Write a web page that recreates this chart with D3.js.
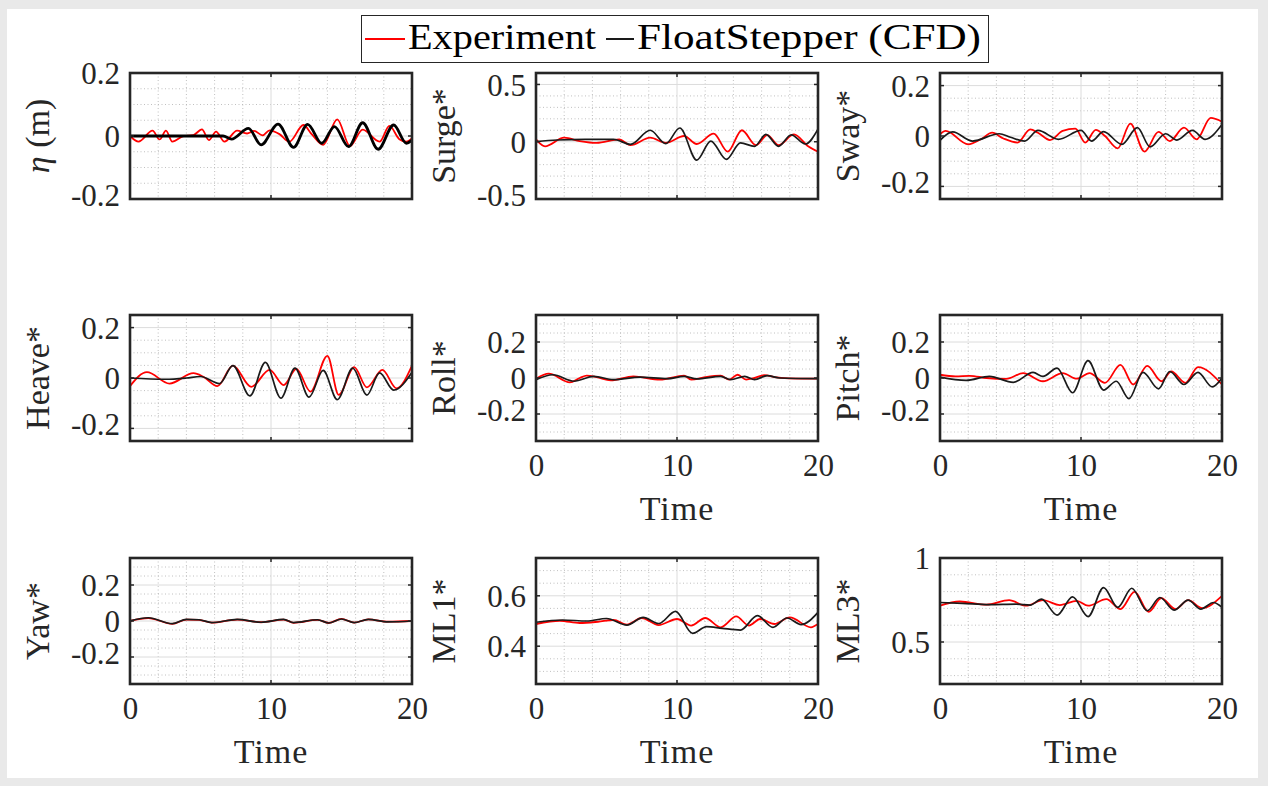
<!DOCTYPE html>
<html>
<head>
<meta charset="utf-8">
<script src="https://cdn.jsdelivr.net/npm/d3@7"></script>
<style>
  body { margin: 0; background: #e9e9e9; }
  svg text { font-family: "Liberation Serif", "Times New Roman", serif; fill: #262626; }
</style>
</head>
<body>
<div id="d3-container"></div>
<script>
/* CONSTANTS AND GLOBALS */
const width = 1268,
  height = 786,
  panelW = 282,
  panelH = 126;
const colX = [130, 536, 940];
const rowY = [73, 315, 558];

/* DATA */
const timeDomain = [0, 20];
const timeTicks = [0, 10, 20];
const timeMinorStep = 2;
const legendNames = ["Experiment", "FloatStepper (CFD)"];
const seriesColors = ["#ff0000", "#000000"];

// [time, value] pairs (peaks / troughs)
const etaExp = [[0,0],[0.6,-0.018],[1.6,0.017],[2.1,-0.011],[2.55,0.017],[3.0,-0.018],[3.8,0],[4.5,0.003],[5.1,0.021],[5.6,-0.013],[6.1,0.014],[6.7,-0.018],[7.6,0.017],[8.3,0.008],[8.8,0.016],[9.4,0.002],[9.9,0.018],[10.6,0.006],[11.3,-0.018],[12.3,0.035],[12.9,0.005],[13.7,-0.028],[14.7,0.053],[15.6,-0.032],[16.5,0.02],[17.7,-0.018],[18.4,0.032],[19.1,-0.01],[19.6,-0.018],[20,-0.007]];
const etaCfd = [[0,0],[6.6,0],[7.2,-0.01],[8.4,0.024],[9.3,-0.028],[10.5,0.038],[11.6,-0.036],[12.6,0.037],[13.6,-0.023],[14.5,0.03],[15.5,-0.034],[16.5,0.042],[17.6,-0.042],[18.7,0.035],[19.6,-0.023],[20,-0.013]];

const surgeExp = [[0,0.02],[0.64,-0.04],[2.0,0.035],[3.1,0.006],[4.3,-0.01],[5.9,0.02],[6.7,-0.03],[8.1,0.035],[9.2,-0.01],[10.5,0.05],[11.4,-0.02],[12.6,0.07],[13.6,-0.087],[14.6,0.1],[15.6,-0.03],[16.4,0.058],[17.2,-0.03],[18.3,0.064],[19.3,-0.04],[20,-0.087]];
const surgeCfd = [[0,0],[1.5,0.015],[3.5,0.02],[5.5,0.02],[6.7,-0.023],[8.1,0.1],[9.2,-0.017],[10.2,0.12],[11.4,-0.16],[12.4,0.006],[13.5,-0.154],[14.5,-0.01],[15.5,-0.04],[16.3,0.064],[17.2,-0.04],[18.1,0.06],[19.1,-0.02],[20,0.11]];

const swayExp = [[0,0.007],[0.4,0.02],[2.0,-0.033],[2.9,-0.013],[3.7,0.013],[4.5,-0.01],[5.5,-0.026],[6.4,0.026],[6.95,0.013],[7.8,-0.016],[8.7,0.02],[9.6,0.029],[10.3,-0.026],[11.05,0.024],[11.7,0.0],[12.6,-0.049],[13.5,0.049],[14.5,-0.062],[15.5,0.016],[16.3,-0.02],[17.3,0.033],[18.2,-0.013],[19.2,0.072],[20,0.057]];
const swayCfd = [[0,-0.017],[0.9,0.016],[2.3,-0.02],[4.2,0.009],[5.0,-0.005],[6.0,-0.02],[6.95,0.022],[8.4,-0.013],[10.0,0.022],[10.75,-0.02],[11.6,0.017],[12.9,-0.033],[14.0,0.033],[14.9,-0.043],[16.0,0.009],[16.8,-0.016],[17.9,0.022],[18.8,-0.013],[20,0.046]];

const heaveExp = [[0,-0.032],[1.2,0.023],[2.8,-0.022],[4.5,0.019],[5.2,0.005],[6.2,-0.032],[7.3,0.049],[8.6,-0.035],[9.9,0.032],[10.9,-0.028],[11.8,0.036],[12.8,-0.054],[14.0,0.088],[14.8,-0.067],[15.9,0.043],[16.8,-0.037],[17.9,0.032],[18.9,-0.041],[20,0.049]];
const heaveCfd = [[0,0],[2.5,-0.005],[4.0,0],[5.0,0.006],[6.35,-0.022],[7.3,0.049],[8.5,-0.071],[9.6,0.062],[10.7,-0.08],[11.7,0.039],[12.7,-0.076],[13.7,0.03],[14.7,-0.086],[15.8,0.039],[16.8,-0.068],[17.7,0.02],[18.7,-0.048],[20,0.023]];

const rollExp = [[0,-0.005],[0.9,0.024],[2.4,-0.024],[3.1,0],[3.6,0.013],[4.3,0.005],[5.3,-0.013],[6.9,0.009],[8.8,-0.009],[10.5,0.013],[11.0,-0.009],[12.0,0.005],[13.1,0.013],[13.7,-0.009],[14.3,0.018],[14.9,-0.009],[15.5,0],[16.2,0.016],[16.9,0.005],[17.9,-0.002],[20,-0.004]];
const rollCfd = [[0,-0.009],[1.2,0.018],[2.7,-0.018],[4.1,0.009],[5.5,-0.009],[7.4,0.005],[9.3,-0.004],[10.5,0.009],[11.4,-0.005],[13.1,0.009],[13.8,-0.009],[14.8,0.009],[15.5,-0.009],[16.4,0.013],[17.3,0],[20,-0.004]];

const pitchExp = [[0,0.018],[1.1,0.009],[2.1,0.012],[3.3,0],[4.7,-0.005],[5.9,0.027],[7.3,-0.018],[8.7,0.027],[9.7,-0.004],[10.6,0.027],[11.7,-0.027],[12.8,0.073],[13.7,-0.036],[14.7,0.067],[15.7,-0.018],[16.4,0.036],[17.4,-0.027],[18.3,0.06],[20,-0.036]];
const pitchCfd = [[0,0.005],[1.85,-0.013],[3.5,0.009],[5.2,-0.024],[6.6,0.031],[7.3,0.009],[8.3,0.055],[9.4,-0.082],[10.5,0.096],[11.6,-0.067],[12.5,-0.018],[13.4,-0.115],[14.4,0.031],[15.5,-0.06],[16.3,0.036],[17.3,-0.036],[18.3,0.031],[19.3,-0.049],[20,0]];

const yawExp = [[0,0],[1.3,0.016],[3.0,-0.016],[4.0,0.008],[4.9,0.006],[5.8,-0.009],[7.6,0.008],[9.3,-0.007],[10.9,0.008],[11.6,-0.01],[13.3,0.006],[14.1,-0.011],[15.0,0.012],[15.9,-0.009],[16.9,0.009],[18.3,-0.004],[20,0]];
const yawCfd = [[0,0],[1.3,0.018],[3.0,-0.015],[4.0,0.009],[4.9,0.007],[5.8,-0.009],[7.6,0.009],[9.3,-0.007],[10.9,0.009],[11.6,-0.009],[13.3,0.007],[14.1,-0.011],[15.0,0.011],[15.9,-0.009],[16.9,0.009],[18.3,-0.005],[20,0]];

const ml1Exp = [[0,0.488],[1.7,0.501],[3.1,0.492],[4.4,0.497],[5.5,0.504],[6.45,0.486],[7.5,0.512],[8.7,0.484],[10.0,0.508],[11.0,0.482],[12.0,0.512],[13.1,0.475],[14.2,0.518],[15.1,0.482],[15.9,0.508],[16.9,0.488],[18.0,0.514],[19.5,0.475],[20,0.488]];
const ml1Cfd = [[0,0.495],[1.9,0.504],[3.6,0.5],[5.0,0.51],[6.45,0.484],[7.6,0.514],[8.7,0.49],[9.9,0.538],[11.1,0.451],[12.1,0.478],[13.2,0.471],[14.5,0.464],[15.7,0.521],[16.8,0.475],[17.8,0.512],[18.8,0.486],[20,0.534]];

const ml3Exp = [[0,0.716],[1.4,0.741],[3.3,0.722],[4.9,0.749],[6.1,0.716],[7.3,0.749],[8.5,0.72],[9.7,0.745],[10.5,0.716],[11.8,0.755],[12.8,0.696],[13.8,0.798],[14.8,0.68],[15.7,0.761],[16.7,0.696],[17.6,0.749],[18.6,0.702],[20,0.775]];
const ml3Cfd = [[0,0.735],[1.6,0.73],[3.5,0.722],[5.4,0.725],[6.4,0.72],[7.2,0.755],[8.3,0.66],[9.4,0.769],[10.5,0.651],[11.6,0.824],[12.6,0.706],[13.6,0.82],[14.7,0.686],[15.6,0.765],[16.6,0.69],[17.6,0.749],[18.5,0.696],[19.4,0.735],[20,0.706]];

const panelLabels = ["η (m)", "Surge*", "Sway*", "Heave*", "Roll*", "Pitch*", "Yaw*", "ML1*", "ML3*"];
const yDomains = [[-0.2, 0.2], [-0.5, 0.6], [-0.25, 0.25], [-0.25, 0.25], [-0.35, 0.35], [-0.35, 0.35], [-0.35, 0.35], [0.25, 0.75], [0.25, 1]];
const yTicks = [[-0.2, 0, 0.2], [-0.5, 0, 0.5], [-0.2, 0, 0.2], [-0.2, 0, 0.2], [-0.2, 0, 0.2], [-0.2, 0, 0.2], [-0.2, 0, 0.2], [0.4, 0.6], [0.5, 1]];
const yMinorSteps = [0.05, 0.1, 0.05, 0.05, 0.05, 0.05, 0.05, 0.05, 0.1];
const showTime = [false, false, false, false, true, true, true, true, true];
const expSeries = [etaExp, surgeExp, swayExp, heaveExp, rollExp, pitchExp, yawExp, ml1Exp, ml3Exp];
const cfdSeries = [etaCfd, surgeCfd, swayCfd, heaveCfd, rollCfd, pitchCfd, yawCfd, ml1Cfd, ml3Cfd];

let svg;

function init() {
  svg = d3.select("#d3-container")
    .append("svg")
    .attr("width", width)
    .attr("height", height);

  // white figure area
  svg.append("rect")
    .attr("x", 7).attr("y", 9)
    .attr("width", 1251).attr("height", 769)
    .attr("fill", "#ffffff");

  panelLabels.forEach((label, i) => drawPanel(i));
  drawLegend();
}

function minorValues(domain, step, majors) {
  const out = [];
  const k0 = Math.ceil(domain[0] / step - 1e-6), k1 = Math.floor(domain[1] / step + 1e-6);
  for (let k = k0; k <= k1; k++) {
    const v = +(k * step).toFixed(4);
    if (v <= domain[0] + 1e-6 || v >= domain[1] - 1e-6) continue;
    if (majors.some(m => Math.abs(m - v) < 1e-6)) continue;
    out.push(v);
  }
  return out;
}

function drawPanel(i) {
  const col = i % 3, row = Math.floor(i / 3);
  const g = svg.append("g")
    .attr("transform", `translate(${colX[col]}, ${rowY[row]})`);

  const xScale = d3.scaleLinear().domain(timeDomain).range([0, panelW]);
  const yScale = d3.scaleLinear().domain(yDomains[i]).range([panelH, 0]);

  const xMinor = minorValues(timeDomain, timeMinorStep, timeTicks);
  const yMinor = minorValues(yDomains[i], yMinorSteps[i], yTicks[i]);

  // minor grid (dotted)
  g.append("g").selectAll("line")
    .data(xMinor).join("line")
    .attr("x1", d => xScale(d)).attr("x2", d => xScale(d))
    .attr("y1", 0).attr("y2", panelH)
    .attr("stroke", "#b0b0b0").attr("stroke-width", 0.8)
    .attr("stroke-dasharray", "1,2.5");
  g.append("g").selectAll("line")
    .data(yMinor).join("line")
    .attr("x1", 0).attr("x2", panelW)
    .attr("y1", d => yScale(d)).attr("y2", d => yScale(d))
    .attr("stroke", "#b0b0b0").attr("stroke-width", 0.8)
    .attr("stroke-dasharray", "1,2.5");

  // major grid
  g.append("g").selectAll("line")
    .data(timeTicks).join("line")
    .attr("x1", d => xScale(d)).attr("x2", d => xScale(d))
    .attr("y1", 0).attr("y2", panelH)
    .attr("stroke", "#dcdcdc").attr("stroke-width", 1);
  g.append("g").selectAll("line")
    .data(yTicks[i]).join("line")
    .attr("x1", 0).attr("x2", panelW)
    .attr("y1", d => yScale(d)).attr("y2", d => yScale(d))
    .attr("stroke", "#dcdcdc").attr("stroke-width", 1);

  // lines
  const clipId = "clip" + i;
  g.append("clipPath").attr("id", clipId)
    .append("rect").attr("width", panelW).attr("height", panelH);

  const lineGen = d3.line()
    .x(d => xScale(d[0]))
    .y(d => yScale(d[1]))
    .curve(d3.curveMonotoneX);

  g.append("path")
    .attr("clip-path", `url(#${clipId})`)
    .attr("d", lineGen(expSeries[i]))
    .attr("fill", "none")
    .attr("stroke", seriesColors[0])
    .attr("stroke-width", 1.8);

  g.append("path")
    .attr("clip-path", `url(#${clipId})`)
    .attr("d", lineGen(cfdSeries[i]))
    .attr("fill", "none")
    .attr("stroke", i === 0 ? "#000000" : "#1a1a1a")
    .attr("stroke-width", i === 0 ? 2.8 : 1.7);

  // tick marks inside the box
  const tickLen = 4;
  const tickG = g.append("g").attr("stroke", "#262626").attr("stroke-width", 1.5);
  tickG.selectAll(".tl").data(yTicks[i]).join("line").attr("class", "tl")
    .attr("x1", 0).attr("x2", tickLen)
    .attr("y1", d => yScale(d)).attr("y2", d => yScale(d));
  tickG.selectAll(".tr").data(yTicks[i]).join("line").attr("class", "tr")
    .attr("x1", panelW - tickLen).attr("x2", panelW)
    .attr("y1", d => yScale(d)).attr("y2", d => yScale(d));
  tickG.selectAll(".tb").data(timeTicks).join("line").attr("class", "tb")
    .attr("x1", d => xScale(d)).attr("x2", d => xScale(d))
    .attr("y1", panelH - tickLen).attr("y2", panelH);
  tickG.selectAll(".tt").data(timeTicks).join("line").attr("class", "tt")
    .attr("x1", d => xScale(d)).attr("x2", d => xScale(d))
    .attr("y1", 0).attr("y2", tickLen);

  // frame
  g.append("rect")
    .attr("width", panelW).attr("height", panelH)
    .attr("fill", "none")
    .attr("stroke", "#262626")
    .attr("stroke-width", 2.6);

  // y tick labels via axis
  const yAxis = d3.axisLeft(yScale)
    .tickValues(yTicks[i])
    .tickSize(0)
    .tickPadding(10)
    .tickFormat(d => String(d));
  const yAxisGroup = g.append("g").call(yAxis);
  yAxisGroup.select(".domain").remove();
  yAxisGroup.selectAll("text")
    .attr("font-size", 31)
    .attr("font-family", "Liberation Serif, serif")
    .attr("fill", "#262626")
    .attr("dy", d => d < 0 ? "0.2em" : "0.34em");

  // y label
  const yl = g.append("text")
    .attr("transform", `translate(${-81}, ${panelH / 2}) rotate(-90)`)
    .attr("text-anchor", "middle")
    .attr("font-size", 34);
  if (i === 0) {
    yl.append("tspan").attr("font-style", "italic").text("η");
    yl.append("tspan").text(" (m)");
  } else {
    yl.text(panelLabels[i]);
  }

  if (showTime[i]) {
    const xAxis = d3.axisBottom(xScale)
      .tickValues(timeTicks)
      .tickSize(0)
      .tickPadding(13)
      .tickFormat(d => String(d));
    const xAxisGroup = g.append("g")
      .attr("transform", `translate(0, ${panelH})`)
      .call(xAxis);
    xAxisGroup.select(".domain").remove();
    xAxisGroup.selectAll("text")
      .attr("font-size", 31)
      .attr("font-family", "Liberation Serif, serif")
      .attr("fill", "#262626");

    g.append("text")
      .attr("x", panelW / 2)
      .attr("y", panelH + 79)
      .attr("text-anchor", "middle")
      .attr("font-size", 34)
      .attr("letter-spacing", 1)
      .text("Time");
  }
}

function drawLegend() {
  const lg = svg.append("g");
  lg.append("rect")
    .attr("x", 361.5).attr("y", 15.5)
    .attr("width", 627).attr("height", 47)
    .attr("fill", "#ffffff")
    .attr("stroke", "#262626")
    .attr("stroke-width", 1);

  const items = [
    { x1: 365, x2: 405, tx: 408, tl: 188 },
    { x1: 606, x2: 634, tx: 637, tl: 344 }
  ];
  items.forEach((it, k) => {
    lg.append("line")
      .attr("x1", it.x1).attr("x2", it.x2)
      .attr("y1", 39).attr("y2", 39)
      .attr("stroke", seriesColors[k])
      .attr("stroke-width", 1.8);
    lg.append("text")
      .attr("x", it.tx).attr("y", 48.5)
      .attr("font-size", 35)
      .attr("textLength", it.tl)
      .attr("lengthAdjust", "spacingAndGlyphs")
      .style("fill", "#000")
      .text(legendNames[k]);
  });
}

init();
</script>
</body>
</html>
